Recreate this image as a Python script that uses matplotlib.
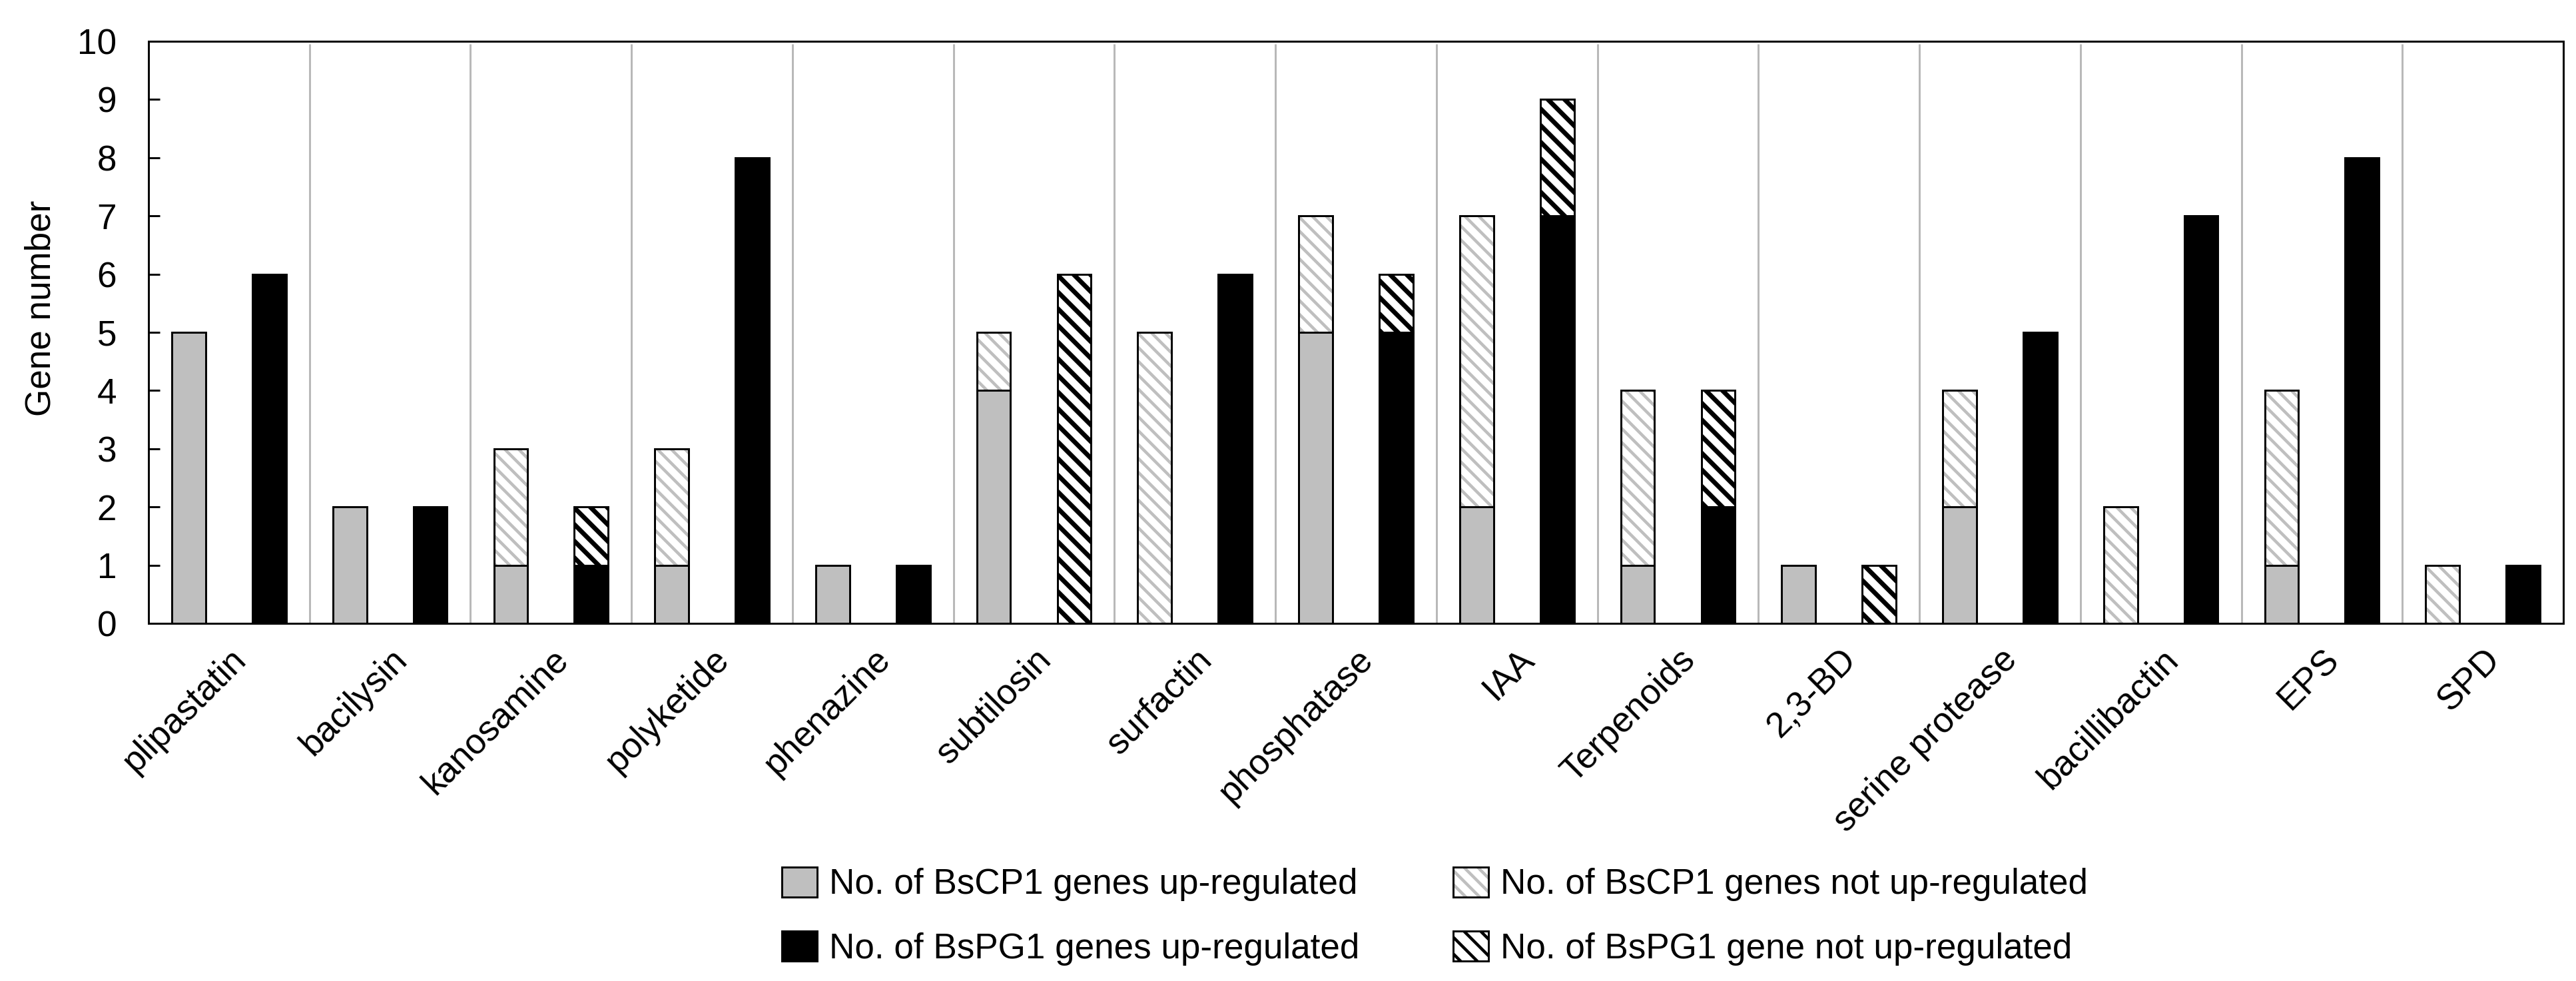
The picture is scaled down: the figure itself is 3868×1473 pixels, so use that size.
import numpy as np
import matplotlib
matplotlib.use("Agg")
import matplotlib.pyplot as plt
import matplotlib.hatch as mh
from matplotlib.path import Path
from matplotlib.patches import Patch
from matplotlib.transforms import ScaledTranslation

# ---------------- data ----------------
categories = ["plipastatin", "bacilysin", "kanosamine", "polyketide", "phenazine",
              "subtilosin", "surfactin", "phosphatase", "IAA", "Terpenoids",
              "2,3-BD", "serine protease", "bacillibactin", "EPS", "SPD"]
cp1_up = [5, 2, 1, 1, 1, 4, 0, 5, 2, 1, 1, 2, 0, 1, 0]
cp1_not = [0, 0, 2, 2, 0, 1, 5, 2, 5, 3, 0, 2, 2, 3, 1]
pg1_up = [6, 2, 1, 8, 1, 0, 6, 5, 7, 2, 0, 5, 7, 8, 1]
pg1_not = [0, 0, 1, 0, 0, 6, 0, 1, 2, 2, 1, 0, 0, 0, 0]
yticks = list(range(0, 11))
legend_labels = ["No. of BsCP1 genes up-regulated",
                 "No. of BsPG1 genes up-regulated",
                 "No. of BsCP1 genes not up-regulated",
                 "No. of BsPG1 gene not up-regulated"]
ylabel = "Gene number"

# ---------------- custom wide hatch ----------------
class WideSEHatch(mh.HatchPatternBase):
    lines_per_char = 10

    def __init__(self, hatch, density):
        self.num_lines = int(hatch.count('*') * self.lines_per_char)
        self.num_vertices = (self.num_lines + 1) * 2 if self.num_lines else 0

    def set_vertices_and_codes(self, vertices, codes):
        steps = np.linspace(-0.5, 0.5, self.num_lines + 1)
        vertices[0::2, 0] = 0.0 + steps
        vertices[0::2, 1] = 1.0 + steps
        vertices[1::2, 0] = 1.0 + steps
        vertices[1::2, 1] = 0.0 + steps
        codes[0::2] = Path.MOVETO
        codes[1::2] = Path.LINETO

mh._hatch_types = [t for t in mh._hatch_types if t is not mh.Stars] + [WideSEHatch]

# ---------------- style ----------------
DPI = 125
FS = 30.5
GREY = "#bfbfbf"
EDGE_LW = 1.7
plt.rcParams["font.family"] = ["Liberation Sans", "DejaVu Sans"]
plt.rcParams["hatch.linewidth"] = 2.6

fig = plt.figure(figsize=(3868 / DPI, 1473 / DPI), dpi=DPI)
ax = fig.add_axes([0.05765, 0.36456, 0.93744, 0.59335])

x = np.arange(len(categories))
w = 0.21
off = 0.25


def set_hlw(bars, lw):
    for p in bars:
        if hasattr(p, "set_hatch_linewidth"):
            p.set_hatch_linewidth(lw)


# separators
ax.vlines(x[:-1] + 0.5, 0, 9.95, colors="#b8b8b8", lw=1.7, zorder=1)

# BsCP1
ax.bar(x - off, cp1_up, w, color=GREY, edgecolor="black", lw=EDGE_LW, zorder=3)
hb = ax.bar(x - off, cp1_not, w, bottom=cp1_up, facecolor="white", edgecolor=GREY,
            hatch="\\\\", lw=0, zorder=3)
set_hlw(hb, 2.6)
ax.bar(x - off, cp1_not, w, bottom=cp1_up, fill=False, edgecolor="black",
       lw=EDGE_LW, zorder=4)

# BsPG1
ax.bar(x + off, pg1_up, w, color="black", edgecolor="black", lw=EDGE_LW, zorder=3)
hb2 = ax.bar(x + off, pg1_not, w, bottom=pg1_up, facecolor="white", edgecolor="black",
             hatch="*", lw=EDGE_LW, zorder=3)
set_hlw(hb2, 4.0)

ax.set_xlim(-0.5, len(categories) - 0.5)
ax.set_ylim(0, 10)
ax.set_yticks(yticks)
ax.tick_params(axis="y", direction="in", length=9.8, width=1.7, pad=27.6,
               labelsize=FS)
ax.tick_params(axis="x", length=0, pad=32.5, labelsize=FS)
for s in ax.spines.values():
    s.set_linewidth(1.7)
    s.set_zorder(5)

ax.set_xticks(x)
ax.set_xticklabels(categories, rotation=45, ha="right", va="baseline",
                   rotation_mode="anchor")
shift = ScaledTranslation(28 / DPI, 0, fig.dpi_scale_trans)
for lab in ax.get_xticklabels():
    lab.set_transform(lab.get_transform() + shift)

ax.set_ylabel(ylabel, fontsize=FS, va="center")
ax.yaxis.set_label_coords(-0.0445, 0.541)

# legend
h_cp1_up = Patch(facecolor=GREY, edgecolor="black", lw=EDGE_LW)
h_cp1_not_fill = Patch(facecolor="white", edgecolor=GREY, hatch="\\\\", lw=0)
set_hlw([h_cp1_not_fill], 2.6)
h_cp1_not_edge = Patch(fill=False, edgecolor="black", lw=EDGE_LW)
h_pg1_up = Patch(facecolor="black", edgecolor="black", lw=EDGE_LW)
h_pg1_not = Patch(facecolor="white", edgecolor="black", hatch="*", lw=EDGE_LW)
set_hlw([h_pg1_not], 4.0)

fig.legend([h_cp1_up, h_pg1_up, (h_cp1_not_fill, h_cp1_not_edge), h_pg1_not],
           legend_labels, loc="center", bbox_to_anchor=(0.557, 0.066),
           ncol=2, frameon=False, fontsize=FS, handlelength=1.0,
           handleheight=0.93, handletextpad=0.34, columnspacing=2.66,
           labelspacing=0.85)

fig.savefig("out.png", dpi=DPI, facecolor="white")
